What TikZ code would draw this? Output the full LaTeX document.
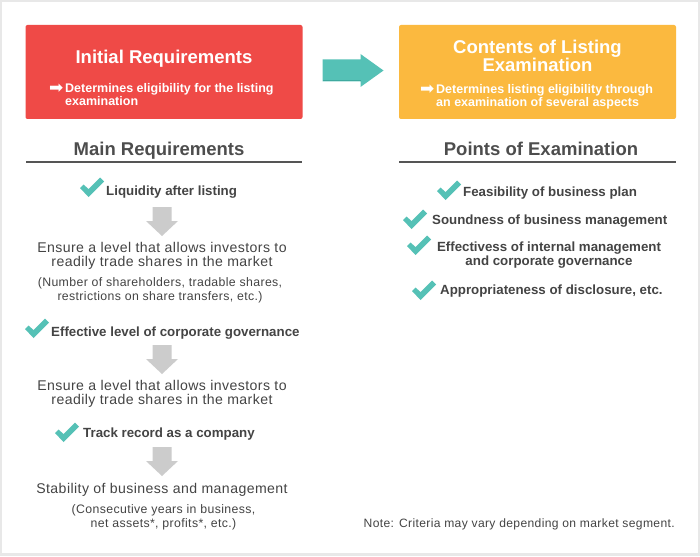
\documentclass[tikz,border=0pt]{standalone}
\usepackage{fontspec}
\setmainfont{Liberation Sans}
\newfontfamily\regsp{Liberation Sans}[LetterSpace=3]
\newfontfamily\dejavu{DejaVu Sans}
\definecolor{redc}{HTML}{EF4A47}
\definecolor{orgc}{HTML}{FBB93F}
\definecolor{tealc}{HTML}{55C1B6}
\definecolor{tealdk}{HTML}{3FA99F}
\definecolor{grayar}{HTML}{CCCCCC}
\definecolor{hdc}{HTML}{4D4D4D}
\definecolor{txc}{HTML}{444444}
\definecolor{linec}{HTML}{555555}
\definecolor{framec}{HTML}{E8E8E8}
\begin{document}
\begin{tikzpicture}[x=1pt,y=-1pt,
  box/.style={rounded corners=2pt, inner sep=0pt, minimum width=277pt, minimum height=94pt},
  title/.style={text=white, inner sep=0pt, align=center, font=\bfseries\fontsize{18.5}{18}\selectfont},
  sub/.style={text=white, inner sep=0pt, align=left, font=\bfseries\fontsize{12.5}{13}\selectfont},
  arr/.style={text=white, inner sep=0pt, font=\dejavu\fontsize{17}{17}\selectfont},
  head/.style={text=hdc, inner sep=0pt, font=\bfseries\fontsize{18.5}{20}\selectfont},
  item/.style={text=txc, inner sep=0pt, align=center, font=\bfseries\fontsize{13.3}{14}\selectfont},
  body/.style={text=txc, inner sep=0pt, align=center, font=\regsp\fontsize{14.1}{14}\selectfont},
  small/.style={text=txc, inner sep=0pt, align=center, font=\regsp\fontsize{12.3}{14}\selectfont},
  note/.style={text=txc, inner sep=0pt, font=\regsp\fontsize{12.1}{14}\selectfont},
  uline/.style={draw=linec, line width=2pt},
  chk/.pic={\fill[tealc] (0,11) -- (3.5,7.5) -- (8.5,12) -- (20,0.5) -- (24,4.5) -- (8.5,20) -- cycle;},
  gdown/.pic={\fill[grayar] (-9.5,0) -- (9.5,0) -- (9.5,14) -- (16,14) -- (0,29) -- (-16,14) -- (-9.5,14) -- cycle;},
  bigarrow/.pic={\fill[tealc] (-30,-11) -- (8,-11) -- (8,-16.5) -- (31,0) -- (8,16.5) -- (8,11) -- (-30,11) -- cycle;
                 \fill[tealdk] (-30,10) -- (8,10) -- (8,11) -- (-30,11) -- cycle;}
]
\useasboundingbox (0,0) rectangle (700,556);
\fill[framec] (0,0) rectangle (700,556);
\fill[white] (2,2) rectangle (697.5,553);

% top boxes
\node[box, fill=redc] (rbox) at (164,72) {};
\node[box, fill=orgc] (obox) at (537.5,72) {};
\node[title, anchor=base] (t1) at (164,63.3) {Initial Requirements};
\node[arr, anchor=base east] (a1) at (63.5,94) {➡};
\node[sub, anchor=base west] (s1) at (65,106) {Determines eligibility for the listing\\examination};
\node[title, anchor=base] (t2) at (537.5,72) {Contents of Listing\\Examination};
\node[arr, anchor=base east] (a2) at (434.5,95) {➡};
\node[sub, anchor=base west] (s2) at (436,107) {Determines listing eligibility through\\an examination of several aspects};
\pic at (352.5,70.5) {bigarrow};

% headings
\node[head, anchor=base] (h1) at (159,156) {Main Requirements};
\draw[uline] (26,162) -- (302,162);
\node[head, anchor=base] (h2) at (541,156) {Points of Examination};
\draw[uline] (399,162) -- (676,162);

% left column
\pic at (80,177) {chk};
\node[item, anchor=base west] (l1) at (106,195) {Liquidity after listing};
\pic at (162,207) {gdown};
\node[body, anchor=base] (e1) at (162,266) {Ensure a level that allows investors to\\readily trade shares in the market};
\node[small, anchor=base] (p1) at (160,300) {(Number of shareholders, tradable shares,\\restrictions on share transfers, etc.)};
\pic at (25,318) {chk};
\node[item, anchor=base west] (l2) at (51,336) {Effective level of corporate governance};
\pic at (162,345) {gdown};
\node[body, anchor=base] (e2) at (162,404) {Ensure a level that allows investors to\\readily trade shares in the market};
\pic at (55,422) {chk};
\node[item, anchor=base west] (l3) at (83,437) {Track record as a company};
\pic at (162,447) {gdown};
\node[body, anchor=base] (e3) at (162,493) {Stability of business and management};
\node[small, anchor=base] (p3) at (163.5,527) {(Consecutive years in business,\\net assets*, profits*, etc.)};

% right column
\pic at (437,180) {chk};
\node[item, anchor=base west] (r1) at (463,196) {Feasibility of business plan};
\pic at (403,209) {chk};
\node[item, anchor=base west] (r2) at (432,224) {Soundness of business management};
\pic at (407,235) {chk};
\node[item, anchor=base] (r3) at (549,265) {Effectivess of internal management\\and corporate governance};
\pic at (412,280) {chk};
\node[item, anchor=base west] (r4) at (440,294) {Appropriateness of disclosure, etc.};

% note
\node[note, anchor=base east] (nt) at (675,527) {Note: Criteria may vary depending on market segment.};
\end{tikzpicture}
\end{document}
